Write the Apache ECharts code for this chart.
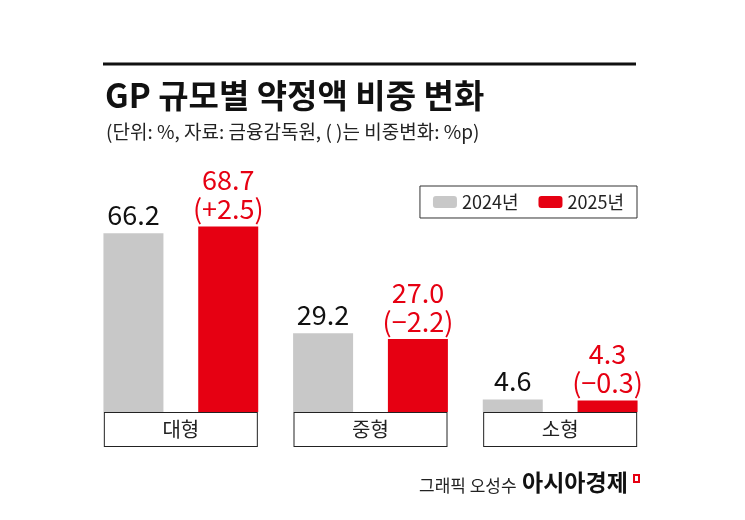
<!DOCTYPE html>
<html>
<head>
<meta charset="utf-8">
<script src="https://cdn.jsdelivr.net/npm/echarts@6/dist/echarts.min.js"></script>
<style>
  html, body { margin: 0; padding: 0; background: #fff; }
  #chart { width: 745px; height: 520px; }
</style>
</head>
<body>
<div id="chart"></div>
<script>
var categories = ['대형', '중형', '소형'];
var values2024 = [66.2, 29.2, 4.6];
var values2025 = [68.7, 27.0, 4.3];
var changes = ['+2.5', '−2.2', '−0.3'];

var chartDom = document.getElementById('chart');
var myChart = echarts.init(chartDom);
var option;

var FONT = '"Noto Sans CJK KR", "Noto Sans", sans-serif';

option = {
  backgroundColor: '#fff',
  animation: false,
  textStyle: { fontFamily: FONT },
  title: [
    {
      text: 'GP 규모별 약정액 비중 변화',
      left: 100,
      top: 74,
      textStyle: { fontSize: 33, fontWeight: 'bold', color: '#111', fontFamily: FONT }
    },
    {
      text: '(단위: %, 자료: 금융감독원, ( )는 비중변화: %p)',
      left: 101,
      top: 117,
      textStyle: { fontSize: 19, fontWeight: 'normal', color: '#222', fontFamily: FONT }
    }
  ],
  legend: {
    right: 108,
    top: 186,
    itemWidth: 24,
    itemHeight: 12,
    itemGap: 20,
    padding: [7, 13, 7, 13],
    borderColor: '#333',
    borderWidth: 1,
    textStyle: { fontSize: 18, color: '#222', fontFamily: FONT },
    data: ['2024년', '2025년']
  },
  grid: {
    left: 86,
    right: 90,
    top: 142,
    bottom: 108
  },
  xAxis: {
    type: 'category',
    data: categories,
    axisLine: { show: false },
    axisTick: { show: false },
    axisLabel: {
      margin: 1,
      width: 152,
      height: 33,
      lineHeight: 33,
      align: 'center',
      verticalAlign: 'top',
      backgroundColor: '#fff',
      borderColor: '#222',
      borderWidth: 1,
      fontSize: 20,
      color: '#222',
      fontFamily: FONT
    }
  },
  yAxis: {
    type: 'value',
    min: 0,
    max: 100,
    show: false,
    splitLine: { show: false }
  },
  series: [
    {
      name: '2024년',
      type: 'bar',
      barWidth: 60,
      barGap: '58%',
      itemStyle: { color: '#c8c8c8' },
      label: {
        show: true,
        position: 'top',
        distance: 5,
        fontSize: 27,
        color: '#111',
        fontFamily: FONT,
        formatter: function (p) { return p.value.toFixed(1); }
      },
      data: values2024
    },
    {
      name: '2025년',
      type: 'bar',
      barWidth: 60,
      itemStyle: { color: '#e60012' },
      label: {
        show: true,
        position: 'top',
        distance: 3,
        fontSize: 27,
        lineHeight: 29,
        color: '#e60012',
        fontFamily: FONT,
        formatter: function (p) {
          return p.value.toFixed(1) + '\n(' + changes[p.dataIndex] + ')';
        }
      },
      data: values2025
    }
  ],
  graphic: [
    {
      type: 'line',
      shape: { x1: 103, y1: 64, x2: 636, y2: 64 },
      style: { stroke: '#111', lineWidth: 3 }
    },
    {
      type: 'text',
      left: 419,
      top: 477,
      style: { text: '그래픽 오성수', fontSize: 17, fill: '#222', fontFamily: FONT }
    },
    {
      type: 'text',
      left: 522,
      top: 471,
      style: { text: '아시아경제', fontSize: 23, fontWeight: 'bold', fill: '#111', fontFamily: FONT }
    },
    {
      type: 'rect',
      shape: { x: 634, y: 475, width: 5, height: 7 },
      style: { fill: 'none', stroke: '#e60012', lineWidth: 2 }
    }
  ]
};

option && myChart.setOption(option);
</script>
</body>
</html>
